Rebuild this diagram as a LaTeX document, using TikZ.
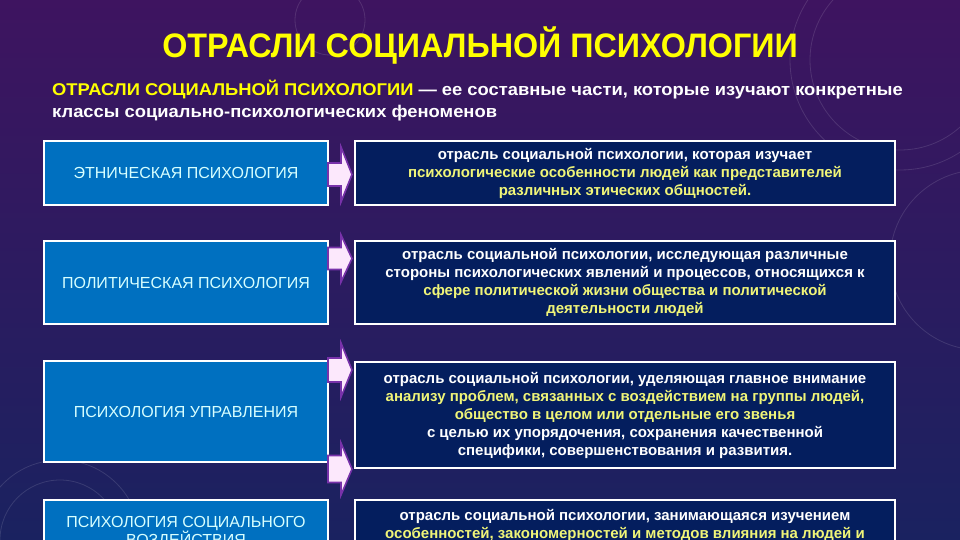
\documentclass[tikz,border=0pt]{standalone}
\usepackage{fontspec}
\setmainfont{Liberation Sans}
\newfontfamily\titlefont[FakeStretch=0.95]{Liberation Sans}
\newfontfamily\introfont[FakeStretch=1.08]{Liberation Sans}
\definecolor{bgtop}{RGB}{62,20,96}
\definecolor{bgmid}{RGB}{52,26,104}
\definecolor{bgbot}{RGB}{26,34,96}
\definecolor{lblue}{RGB}{0,112,192}
\definecolor{dblue}{RGB}{4,30,94}
\definecolor{ttl}{RGB}{255,255,0}
\definecolor{hl}{RGB}{240,245,120}
\definecolor{ltxt}{RGB}{215,255,255}
\definecolor{arrfill}{RGB}{252,232,252}
\definecolor{arrline}{RGB}{120,50,170}
\newcommand\blockarr[3]{%
  \filldraw[arrsty] (328,{#1-#3}) -- (341,{#1-#3}) -- (341,{#1-#2}) -- (352,#1)
    -- (341,{#1+#2}) -- (341,{#1+#3}) -- (328,{#1+#3}) -- cycle;}
\begin{document}
\begin{tikzpicture}[x=1pt,y=-1pt,
  lbox/.style={draw=white, line width=1.8pt, fill=lblue, minimum width=284pt,
    text=ltxt, font=\fontsize{16}{18}\selectfont, align=center, inner sep=0pt},
  rbox/.style={draw=white, line width=1.8pt, fill=dblue, minimum width=540pt,
    text=white, font=\bfseries\fontsize{15}{18}\selectfont, align=center, inner sep=0pt},
  arrsty/.style={fill=arrfill, draw=arrline, line width=1.6pt, line join=miter},
  deco/.style={draw=white, opacity=0.12, line width=0.8pt}]
\useasboundingbox (0,0) rectangle (960,540);
\clip (0,0) rectangle (960,540);
\shade[top color=bgtop, middle color=bgmid, bottom color=bgbot] (0,0) rectangle (960,540);
% faint decorative arcs
\draw[deco] (330,20) circle (35);
\draw[deco] (900,60) circle (90);
\draw[deco] (900,60) circle (110);
\draw[deco] (980,260) circle (90);
\draw[deco] (60,540) circle (60);
\draw[deco] (60,540) circle (80);
% title
\node[text=ttl, font=\titlefont\bfseries\fontsize{34}{40}\selectfont] (title) at (480,45) {ОТРАСЛИ СОЦИАЛЬНОЙ ПСИХОЛОГИИ};
% intro
\node[anchor=north west, text=white, align=left, inner sep=0pt,
      font=\introfont\bfseries\fontsize{17}{22}\selectfont] (intro) at (52,80)
  {\textcolor{ttl}{ОТРАСЛИ СОЦИАЛЬНОЙ ПСИХОЛОГИИ} — ее составные части, которые изучают конкретные\\
   классы социально-психологических феноменов};
% left boxes
\node[lbox, minimum height=64pt] (l1) at (186,173) {ЭТНИЧЕСКАЯ ПСИХОЛОГИЯ};
\node[lbox, minimum height=83pt] (l2) at (186,282.5) {ПОЛИТИЧЕСКАЯ ПСИХОЛОГИЯ};
\node[lbox, minimum height=101pt] (l3) at (186,411.5) {ПСИХОЛОГИЯ УПРАВЛЕНИЯ};
\node[lbox, minimum height=66pt] (l4) at (186,533) {ПСИХОЛОГИЯ СОЦИАЛЬНОГО\\ВОЗДЕЙСТВИЯ};
% right boxes
\node[rbox, minimum height=64pt] (r1) at (625,173)
  {отрасль социальной психологии, которая изучает\\
   \textcolor{hl}{психологические особенности людей как представителей}\\
   \textcolor{hl}{различных этических общностей.}};
\node[rbox, minimum height=83pt] (r2) at (625,282.5)
  {отрасль социальной психологии, исследующая различные\\
   стороны психологических явлений и процессов, относящихся к\\
   \textcolor{hl}{сфере политической жизни общества и политической}\\
   \textcolor{hl}{деятельности людей}};
\node[rbox, minimum height=106pt] (r3) at (625,415)
  {отрасль социальной психологии, уделяющая главное внимание\\
   \textcolor{hl}{анализу проблем, связанных с воздействием на группы людей,}\\
   \textcolor{hl}{общество в целом или отдельные его звенья}\\
   с целью их упорядочения, сохранения качественной\\
   специфики, совершенствования и развития.};
\node[rbox, minimum height=51pt] (r4) at (625,525.5)
  {отрасль социальной психологии, занимающаяся изучением\\
   \textcolor{hl}{особенностей, закономерностей и методов влияния на людей и}};
% block arrows
\blockarr{174.5}{27.5}{11.5}
\blockarr{258.5}{23.5}{11}
\blockarr{370}{27}{12}
\blockarr{469}{26}{13.5}
\end{tikzpicture}
\end{document}
